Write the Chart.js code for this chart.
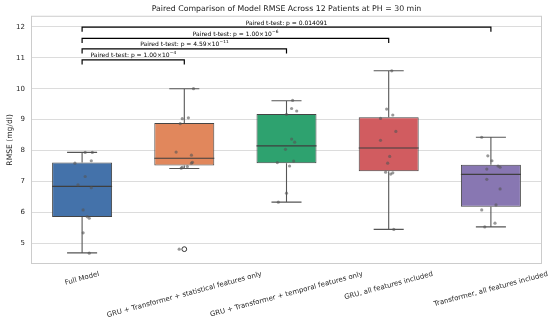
<!DOCTYPE html>
<html lang="en">
<head>
  <meta charset="UTF-8" />
  <title>RMSE comparison</title>
  <script src="https://cdn.jsdelivr.net/npm/chart.js@4.4.1/dist/chart.umd.min.js"></script>
  <style>
    html, body { margin: 0; padding: 0; background: #fff; }
    #wrap { width: 550px; height: 322px; }
  </style>
</head>
<body>
  <div id="wrap"><canvas id="boxChart" width="550" height="322"></canvas></div>
<script>
  // categories + box statistics
  const categories = [
    "Full Model",
    "GRU + Transformer + statistical features only",
    "GRU + Transformer + temporal features only",
    "GRU, all features included",
    "Transformer, all features included"
  ];
  const whiskerLow  = [4.69, 7.42, 6.33, 5.45, 5.53];
  const q1          = [5.85, 7.52, 7.59, 7.33, 6.18];
  const medians     = [6.84, 7.75, 8.15, 8.08, 7.23];
  const q3          = [7.61, 8.89, 9.18, 9.08, 7.54];
  const whiskerHigh = [7.94, 10.00, 9.61, 10.58, 8.43];
  const outliers    = [[], [4.81], [], [], []];

  // per patient RMSE (12 each) and their strip jitter
  const fullModel   = [7.94, 7.94, 7.67, 7.59, 7.16, 6.89, 6.80, 6.08, 5.86, 5.81, 5.34, 4.68];
  const fullJit     = [0.03, 0.10, 0.09, -0.07, 0.03, -0.04, 0.09, 0.01, 0.05, 0.07, 0.01, 0.07];
  const statOnly    = [10.00, 9.06, 9.03, 8.87, 7.95, 7.85, 7.62, 7.59, 7.48, 7.46, 7.43, 4.81];
  const statJit     = [0.09, 0.04, -0.02, -0.04, -0.08, 0.07, 0.08, 0.07, 0.03, -0.02, -0.03, -0.05];
  const tempOnly    = [9.62, 9.36, 9.28, 9.17, 8.37, 8.27, 8.04, 7.66, 7.61, 7.50, 6.62, 6.33];
  const tempJit     = [0.06, 0.05, 0.10, 0.00, 0.05, 0.08, -0.01, 0.07, -0.09, 0.03, 0.00, -0.08];
  const gruAll      = [10.58, 9.34, 9.15, 9.04, 8.62, 8.33, 7.81, 7.59, 7.30, 7.28, 7.24, 5.45];
  const gruJit      = [0.03, -0.02, 0.04, -0.08, 0.07, -0.08, 0.01, -0.01, -0.03, 0.04, 0.02, 0.05];
  const trfAll      = [8.43, 7.83, 7.67, 7.50, 7.46, 7.40, 7.07, 6.76, 6.24, 6.08, 5.65, 5.53];
  const trfJit      = [-0.09, -0.03, 0.01, 0.07, 0.09, -0.04, -0.04, 0.09, 0.05, -0.09, 0.04, -0.06];

  // significance brackets
  const pairs     = [[0, 1], [0, 2], [0, 3], [0, 4]];
  const bracketY  = [10.93, 11.29, 11.63, 11.99];
  const pLabels   = ["1.00×10^\u22124", "4.59×10^\u221211", "1.00×10^\u22126", "0.014091"];
  const yTicks    = [5, 6, 7, 8, 9, 10, 11, 12];

  const boxColors = ["#4472aa", "#e1875c", "#2ea26f", "#d15c60", "#8877b2"];
  const FONT = "'DejaVu Sans', sans-serif";
  const BOX_HALF = 0.2935, CAP_HALF = 0.147, DROP = 0.15;

  const groups = [[fullModel, fullJit], [statOnly, statJit], [tempOnly, tempJit], [gruAll, gruJit], [trfAll, trfJit]];
  var stripPts = [];
  groups.forEach(function(g, i) {
    g[0].forEach(function(v, k) { stripPts.push({x: i + g[1][k], y: v}); });
  });

  var outPts = [];
  outliers.forEach(function(arr, i) { arr.forEach(function(v) { outPts.push({x: i, y: v}); }); });

  // whiskers, caps and medians as broken line segments
  var whiskerPts = [];
  var medianPts = [];
  categories.forEach(function(c, i) {
    whiskerPts.push({x: i, y: whiskerLow[i]}, {x: i, y: q1[i]}, {x: i, y: null});
    whiskerPts.push({x: i, y: q3[i]}, {x: i, y: whiskerHigh[i]}, {x: i, y: null});
    whiskerPts.push({x: i - CAP_HALF, y: whiskerLow[i]}, {x: i + CAP_HALF, y: whiskerLow[i]}, {x: i, y: null});
    whiskerPts.push({x: i - CAP_HALF, y: whiskerHigh[i]}, {x: i + CAP_HALF, y: whiskerHigh[i]}, {x: i, y: null});
    medianPts.push({x: i - BOX_HALF, y: medians[i]}, {x: i + BOX_HALF, y: medians[i]}, {x: i, y: null});
  });

  var bracketPts = [];
  pairs.forEach(function(p, j) {
    var h = bracketY[j];
    bracketPts.push({x: p[0], y: h - DROP}, {x: p[0], y: h}, {x: p[1], y: h}, {x: p[1], y: h - DROP}, {x: p[0], y: null});
  });

  const framePlugin = {
    id: "frame",
    beforeDatasetsDraw(chart) {
      const a = chart.chartArea, ctx = chart.ctx;
      ctx.save();
      ctx.strokeStyle = "#cccccc";
      ctx.lineWidth = 1;
      ctx.strokeRect(a.left + 0.5, a.top + 0.5, a.right - a.left - 1, a.bottom - a.top - 1);
      ctx.restore();
    }
  };

  const textPlugin = {
    id: "texts",
    afterDraw(chart) {
      const ctx = chart.ctx;
      const xl = chart.scales.xl, y = chart.scales.y;
      ctx.save();
      // p-value annotations
      ctx.fillStyle = "#000";
      ctx.textBaseline = "alphabetic";
      ctx.textAlign = "left";
      pairs.forEach(function(p, j) {
        var parts = pLabels[j].split("^");
        var main = "Paired t-test: p = " + parts[0];
        ctx.font = "6px " + FONT;
        var w1 = ctx.measureText(main).width;
        var w2 = 0;
        if (parts[1]) { ctx.font = "4.3px " + FONT; w2 = ctx.measureText(parts[1]).width; }
        var cx = (xl.getPixelForValue(p[0]) + xl.getPixelForValue(p[1])) / 2;
        var by = y.getPixelForValue(bracketY[j]) - 2.5;
        var sx = cx - (w1 + w2) / 2;
        ctx.font = "6px " + FONT;
        ctx.fillText(main, sx, by);
        if (parts[1]) { ctx.font = "4.3px " + FONT; ctx.fillText(parts[1], sx + w1 + 0.3, by - 3); }
      });
      // rotated category labels
      const rot = 15 * Math.PI / 180;
      ctx.font = "7px " + FONT;
      ctx.fillStyle = "#262626";
      ctx.textAlign = "center";
      ctx.textBaseline = "middle";
      const top = chart.chartArea.bottom + 6;
      categories.forEach(function(lab, i) {
        var w = ctx.measureText(lab).width;
        var h = 8.2;
        var cx = xl.getPixelForValue(i);
        var cy = top + (w * Math.sin(rot) + h * Math.cos(rot)) / 2;
        ctx.save();
        ctx.translate(cx, cy);
        ctx.rotate(-rot);
        ctx.fillText(lab, 0, 0);
        ctx.restore();
      });
      ctx.restore();
    }
  };

  new Chart("boxChart", {
    type: "bar",
    data: {
      labels: categories,
      datasets: [
        {
          type: "scatter",
          xAxisID: "xl",
          data: stripPts,
          pointRadius: 1.6,
          pointBackgroundColor: "rgba(85,85,85,0.6)",
          pointBorderWidth: 0,
          order: 0
        },
        {
          type: "scatter",
          xAxisID: "xl",
          data: outPts,
          pointRadius: 2.4,
          pointBackgroundColor: "rgba(255,255,255,0)",
          pointBorderColor: "#333",
          pointBorderWidth: 1,
          order: 0
        },
        {
          type: "line",
          xAxisID: "xl",
          data: medianPts,
          borderColor: "#3f3f3f",
          borderWidth: 1.1,
          pointRadius: 0,
          spanGaps: false,
          order: 1
        },
        {
          type: "line",
          xAxisID: "xl",
          data: whiskerPts,
          borderColor: "#555555",
          borderWidth: 1.1,
          pointRadius: 0,
          spanGaps: false,
          order: 2
        },
        {
          type: "line",
          xAxisID: "xl",
          data: bracketPts,
          borderColor: "#000000",
          borderWidth: 1.2,
          pointRadius: 0,
          spanGaps: false,
          order: 2
        },
        {
          type: "bar",
          data: q1.map(function(v, i) { return [v, q3[i]]; }),
          backgroundColor: boxColors,
          borderColor: "#444444",
          borderWidth: 1,
          borderSkipped: false,
          grouped: false,
          categoryPercentage: 1,
          barPercentage: 0.587,
          order: 3
        }
      ]
    },
    options: {
      responsive: false,
      animation: false,
      devicePixelRatio: 1,
      layout: { padding: { left: 0, right: 8, top: 0, bottom: 0 } },
      plugins: {
        legend: { display: false },
        tooltip: { enabled: false },
        title: {
          display: true,
          text: "Paired Comparison of Model RMSE Across 12 Patients at PH = 30 min",
          fullSize: false,
          color: "#1a1a1a",
          font: { family: FONT, size: 7.8, weight: "normal" },
          padding: { top: 4, bottom: 2.4 }
        }
      },
      scales: {
        x: {
          type: "category",
          offset: true,
          grid: { display: false },
          border: { display: false },
          ticks: { display: false },
          afterFit: function(scale) { scale.height = 58; }
        },
        xl: {
          type: "linear",
          display: false,
          offset: false,
          min: -0.5,
          max: 4.5
        },
        y: {
          min: 4.33,
          max: 12.36,
          grid: { color: "#dcdcdc", lineWidth: 1, drawTicks: false },
          border: { display: false },
          ticks: {
            padding: 6,
            color: "#262626",
            font: { family: FONT, size: 7 }
          },
          title: {
            display: true,
            text: "RMSE (mg/dl)",
            color: "#1a1a1a",
            font: { family: FONT, size: 7.6 },
            padding: { top: 5, bottom: 0 }
          },
          afterBuildTicks: function(scale) {
            scale.ticks = yTicks.map(function(v) { return { value: v }; });
          },
          afterFit: function(scale) { scale.width = 31; }
        }
      }
    },
    plugins: [framePlugin, textPlugin]
  });
</script>
</body>
</html>
